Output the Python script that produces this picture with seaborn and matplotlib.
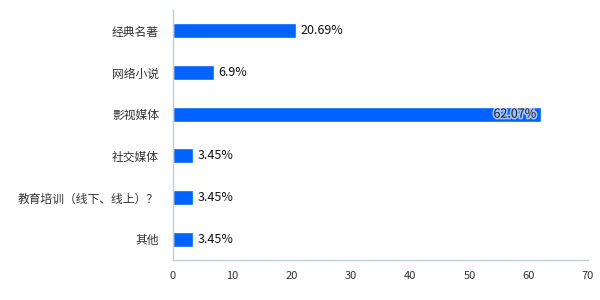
import matplotlib
matplotlib.use("Agg")
import matplotlib.pyplot as plt
import matplotlib.patheffects as pe
import seaborn as sns
import pandas as pd
import numpy as np

categories = ["经典名著", "网络小说", "影视媒体", "社交媒体", "教育培训（线下、线上）？", "其他"]
values = [20.69, 6.9, 62.07, 3.45, 3.45, 3.45]
labels = ["20.69%", "6.9%", "62.07%", "3.45%", "3.45%", "3.45%"]
xticks = [0, 10, 20, 30, 40, 50, 60, 70]

sns.set_style("white")
plt.rcParams['font.family'] = ['Noto Sans CJK SC', 'DejaVu Sans']

df = pd.DataFrame({"cat": categories, "val": values})

fig = plt.figure(figsize=(6, 3), dpi=100)
ax = fig.add_axes([0.288, 0.133, 0.692, 0.834])
sns.barplot(data=df, y="cat", x="val", orient="h", color="#0062FF", saturation=1,
            width=0.36, ax=ax)

ax.set_xlim(0, 70)
ax.set_ylim(len(categories) - 0.5, -0.5)
ax.set_xticks(xticks)
ax.set_xticklabels([str(t) for t in xticks], fontsize=8, color="#333333")
ax.set_xlabel("")
ax.set_ylabel("")
ax.tick_params(axis="x", length=0, pad=8)
ax.tick_params(axis="y", which="major", length=0, labelsize=8.5, labelcolor="#333333", pad=10)
ax.set_yticks(np.arange(-0.5, len(categories), 1), minor=True)
ax.tick_params(axis="y", which="minor", length=9, color="#C0CDE0", width=1)

for s in ["top", "right"]:
    ax.spines[s].set_visible(False)
for s in ["left", "bottom"]:
    ax.spines[s].set_color("#C0CDE0")
    ax.spines[s].set_linewidth(1)

for i, (v, lab) in enumerate(zip(values, labels)):
    if v > 50:
        ax.text(v - 0.8, i, lab, ha="right", va="center", fontsize=9, color="#222222",
                path_effects=[pe.withStroke(linewidth=2.5, foreground="white", alpha=0.6)])
    else:
        ax.text(v + 0.8, i, lab, ha="left", va="center", fontsize=9, color="#111111")

fig.savefig("out.png", dpi=100)
